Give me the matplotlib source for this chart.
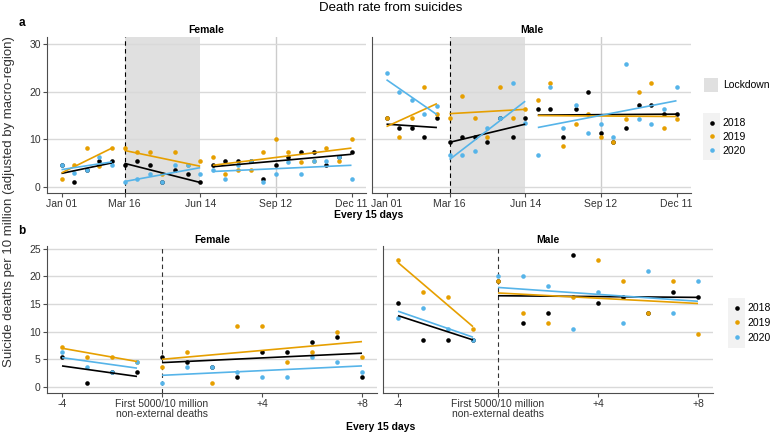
import numpy as np
import matplotlib.pyplot as plt
from matplotlib.patches import Patch, Rectangle
from matplotlib.lines import Line2D

plt.rcParams['font.family'] = ['Liberation Sans', 'DejaVu Sans']

# couleurs par année
years = ["2018", "2019", "2020"]
colors = ["#000000", "#E69F00", "#56B4E9"]

# --- (a) tous les 15 jours, 24 périodes ---
top_ticks = [0, 5, 11, 17, 23]
top_ticklabels = ["Jan 01", "Mar 16", "Jun 14", "Sep 12", "Dec 11"]
top_segments = [(0, 4), (5, 11), (12, 23)]   # avant / confinement / après
lockdown = (5, 11)

fem18 = [4.7, 1.0, 3.6, 5.5, 5.5, 4.7, 5.5, 4.6, 1.0, 3.6, 2.7, 1.0, 4.6, 5.5, 5.5, 5.5, 1.8, 4.6, 6.4, 7.3, 7.3, 4.6, 6.4, 7.3]
fem19 = [1.8, 4.7, 8.2, 4.5, 8.2, 8.2, 7.3, 7.3, 2.7, 7.3, 4.6, 5.5, 6.4, 2.8, 3.6, 3.6, 7.3, 10.1, 7.3, 5.3, 5.5, 8.2, 5.5, 10.1]
fem20 = [4.7, 2.9, 3.6, 6.4, 4.6, 1.0, 1.8, 2.7, 1.0, 4.6, 4.6, 2.7, 3.6, 1.8, 4.6, 5.5, 1.0, 2.8, 5.3, 2.8, 5.5, 5.5, 6.4, 1.8]
mal18 = [14.4, 12.5, 12.5, 10.5, 14.4, 9.5, 10.5, 10.5, 9.5, 14.4, 10.5, 14.4, 16.3, 16.3, 10.5, 16.3, 20.0, 11.4, 9.5, 12.4, 17.2, 17.2, 15.3, 15.3]
mal19 = [14.4, 10.5, 14.4, 21.0, 15.3, 14.4, 19.1, 14.4, 10.5, 21.0, 14.4, 16.3, 18.2, 21.9, 8.6, 13.3, 15.3, 10.5, 9.5, 14.3, 20.0, 21.9, 12.4, 14.3]
mal20 = [23.9, 20.0, 18.2, 15.3, 17.1, 6.7, 6.7, 7.6, 12.5, 14.4, 21.9, 13.4, 6.7, 21.0, 12.4, 17.2, 11.4, 13.3, 10.5, 25.8, 14.3, 13.3, 16.3, 21.0]

# droites de tendance (début, fin) pour chaque segment
fem18_fit = [2.9, 5.1, 5.0, 1.0, 4.3, 6.9]
fem19_fit = [3.0, 8.2, 7.7, 4.4, 4.6, 8.2]
fem20_fit = [3.7, 5.3, 1.2, 4.1, 3.3, 4.6]
mal18_fit = [13.2, 12.5, 9.4, 13.2, 15.1, 15.3]
mal19_fit = [12.7, 17.5, 15.4, 16.3, 15.0, 14.8]
mal20_fit = [22.5, 15.2, 5.8, 18.0, 12.5, 18.1]

# --- (b) autour des 5000 premiers décès ---
bot_x = list(range(-4, 9))
bot_ticks = [-4, 0, 4, 8]
bot_ticklabels = ["-4", "First 5000/10 million\nnon-external deaths", "+4", "+8"]
bot_segments = [(-4, -1), (0, 8)]

bfem18 = [5.5, 0.8, 2.7, 2.7, 5.5, 4.6, 3.6, 1.8, 6.4, 6.4, 8.2, 9.1, 1.8]
bfem19 = [7.3, 5.4, 5.4, 4.6, 3.6, 6.4, 0.8, 11.0, 11.0, 4.6, 6.4, 10.0, 5.4]
bfem20 = [6.4, 3.6, 2.7, 4.6, 0.8, 3.6, 3.6, 2.7, 1.8, 1.8, 5.4, 4.6, 2.7]
bmal18 = [15.2, 8.5, 8.5, 8.5, 19.1, 11.5, 13.4, 23.9, 15.2, 16.2, 13.4, 17.2, 16.2]
bmal19 = [23.0, 17.2, 16.2, 10.5, 19.1, 13.4, 11.5, 16.2, 23.0, 19.1, 13.4, 19.1, 9.5]
bmal20 = [12.4, 14.3, 10.5, 8.5, 20.0, 20.0, 18.2, 10.5, 17.2, 11.5, 21.0, 13.4, 19.1]

bfem18_fit = [3.8, 1.9, 4.4, 6.1]
bfem19_fit = [7.0, 4.6, 5.0, 8.2]
bfem20_fit = [5.3, 3.4, 2.1, 3.8]
bmal18_fit = [12.9, 8.5, 16.5, 16.2]
bmal19_fit = [22.5, 10.9, 17.0, 15.1]
bmal20_fit = [13.7, 9.0, 18.0, 15.5]

W, H = 781, 437
GRID = "#d9d9d9"
AXC = "#4d4d4d"
TXT = "#333333"


def rect(x0, y0, x1, y1):
    return [x0 / W, 1 - y1 / H, (x1 - x0) / W, (y1 - y0) / H]


def style(ax, show_y):
    for s in ["top", "right"]:
        ax.spines[s].set_visible(False)
    for s in ["left", "bottom"]:
        ax.spines[s].set_color(AXC)
        ax.spines[s].set_linewidth(0.8)
    ax.tick_params(axis="x", colors=AXC, labelcolor=TXT, labelsize=7.5, length=3, width=0.8, pad=1.5)
    ax.tick_params(axis="y", colors=AXC, labelcolor=TXT, labelsize=7.5, length=3, width=0.8, pad=1.5)
    if not show_y:
        ax.tick_params(axis="y", length=0, labelleft=False)
    ax.grid(axis="y", color=GRID, lw=1.0, zorder=0.5)
    ax.set_axisbelow(True)


def draw(ax, x, series, fits, segments):
    for vals, fit, c in zip(series, fits, colors):
        ax.plot(x, vals, "o", color=c, ms=3.3, mec="none", zorder=3)
        for k, (a, b) in enumerate(segments):
            ax.plot([a, b], fit[2 * k:2 * k + 2], color=c, lw=1.2, zorder=4, solid_capstyle="butt")


fig = plt.figure(figsize=(W / 100, H / 100), dpi=100)

# (a)
top = [("Female", [fem18, fem19, fem20], [fem18_fit, fem19_fit, fem20_fit]),
       ("Male", [mal18, mal19, mal20], [mal18_fit, mal19_fit, mal20_fit])]
for i, (name, series, fits) in enumerate(top):
    x0 = 47 if i == 0 else 372
    ax = fig.add_axes(rect(x0, 36.7, x0 + 319, 193))
    style(ax, i == 0)
    ax.axvspan(*lockdown, color="#e0e0e0", lw=0, zorder=0.2)
    ax.axvline(17, color="#cccccc", lw=1.0, zorder=0.5)
    ax.axvline(lockdown[0], color="black", lw=0.8, ls=(0, (4, 3)), zorder=2)
    draw(ax, np.arange(24), series, fits, top_segments)
    ax.set_xlim(-1.15, 24.15)
    ax.set_ylim(-1.2, 31.5)
    ax.set_yticks([0, 10, 20, 30])
    ax.set_xticks(top_ticks)
    ax.set_xticklabels(top_ticklabels)
    ax.set_title(name, fontsize=7.5, fontweight="bold", pad=2.5)

# (b)
bot = [("Female", [bfem18, bfem19, bfem20], [bfem18_fit, bfem19_fit, bfem20_fit]),
       ("Male", [bmal18, bmal19, bmal20], [bmal18_fit, bmal19_fit, bmal20_fit])]
for i, (name, series, fits) in enumerate(bot):
    x0 = 47 if i == 0 else 383
    ax = fig.add_axes(rect(x0, 246, x0 + 330, 393))
    style(ax, i == 0)
    ax.axvline(0, color="#333333", lw=0.8, ls=(0, (4, 3)), zorder=2)
    draw(ax, bot_x, series, fits, bot_segments)
    ax.set_xlim(-4.6, 8.6)
    ax.set_ylim(-1.1, 25.5)
    ax.set_yticks([0, 5, 10, 15, 20, 25])
    ax.set_xticks(bot_ticks)
    ax.set_xticklabels(bot_ticklabels, linespacing=1.0)
    ax.set_title(name, fontsize=7.5, fontweight="bold", pad=2.5)

# textes
fig.text(391 / W, 1 - 8 / H, "Death rate from suicides", ha="center", va="center", fontsize=9.5)
fig.text(22 / W, 1 - 23 / H, "a", ha="center", va="center", fontsize=8.5, fontweight="bold")
fig.text(22 / W, 1 - 231 / H, "b", ha="center", va="center", fontsize=8.5, fontweight="bold")
fig.text(369 / W, 1 - 215 / H, "Every 15 days", ha="center", va="center", fontsize=7.5, fontweight="bold")
fig.text(381 / W, 1 - 427 / H, "Every 15 days", ha="center", va="center", fontsize=7.5, fontweight="bold")
fig.text(9.5 / W, 1 - 202 / H, "Suicide deaths per 10 million (adjusted by macro-region)",
         ha="center", va="center", rotation=90, fontsize=9.5, color=TXT)

# légendes
fig.add_artist(Rectangle((703 / W, 1 - 160 / H), 17 / W, 47 / H, transform=fig.transFigure,
                         facecolor="#f2f2f2", edgecolor="none"))
fig.add_artist(Rectangle((728 / W, 1 - 348 / H), 17 / W, 50 / H, transform=fig.transFigure,
                         facecolor="#f2f2f2", edgecolor="none"))

fig.legend(handles=[Patch(facecolor="#e0e0e0", edgecolor="none", label="Lockdown")],
           loc="center left", bbox_to_anchor=(700 / W, 1 - 85 / H), frameon=False,
           fontsize=7.5, handlelength=1.3, handleheight=1.6, handletextpad=0.5, borderaxespad=0)
year_handles = [Line2D([], [], ls="", marker="o", ms=3.3, mec="none", color=c, label=y)
                for y, c in zip(years, colors)]
fig.legend(handles=year_handles, loc="center left", bbox_to_anchor=(701 / W, 1 - 137 / H),
           frameon=False, fontsize=7.5, handlelength=1.3, handletextpad=0.4,
           labelspacing=0.35, borderaxespad=0)
fig.legend(handles=year_handles, loc="center left", bbox_to_anchor=(726 / W, 1 - 323 / H),
           frameon=False, fontsize=7.5, handlelength=1.3, handletextpad=0.4,
           labelspacing=0.45, borderaxespad=0)

fig.savefig("out.png", dpi=100)
